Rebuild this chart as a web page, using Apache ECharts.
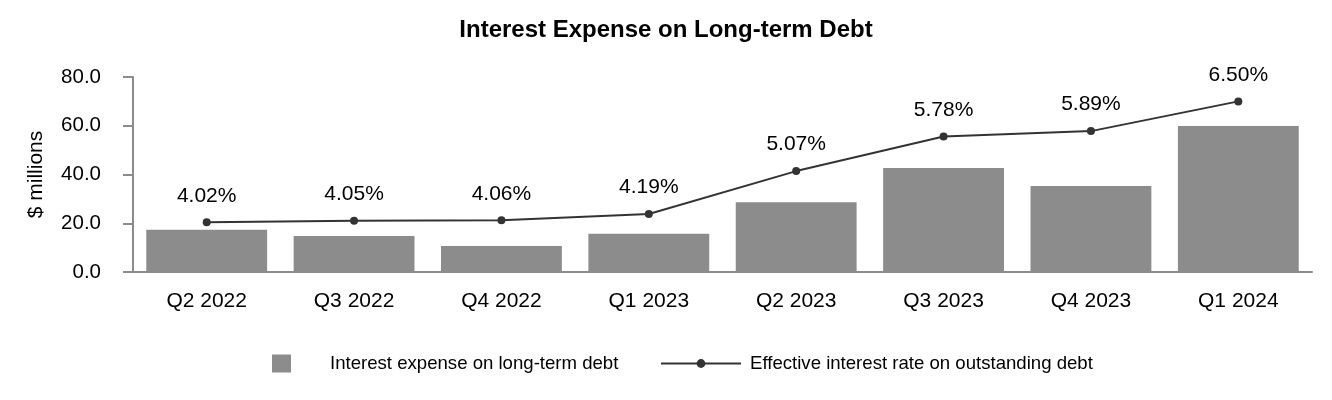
<!DOCTYPE html>
<html>
<head>
<meta charset="utf-8">
<script src="https://cdn.jsdelivr.net/npm/echarts@6/dist/echarts.min.js"></script>
<style>
html,body{margin:0;padding:0;background:#fff;}
#chart{width:1332px;height:400px;}
</style>
</head>
<body>
<div id="chart"></div>
<script>
const categories = ['Q2 2022','Q3 2022','Q4 2022','Q1 2023','Q2 2023','Q3 2023','Q4 2023','Q1 2024'];
const interestExpense = [17.3, 14.8, 10.7, 15.7, 28.6, 42.7, 35.3, 59.9];
const effectiveRate = [4.02, 4.05, 4.06, 4.19, 5.07, 5.78, 5.89, 6.50];
const yTicks = [0, 20, 40, 60, 80];

const FONT = '"Liberation Sans", Arial, sans-serif';
const chart = echarts.init(document.getElementById('chart'));
chart.setOption({
  animation: false,
  backgroundColor: '#fff',
  textStyle: { fontFamily: FONT },
  title: {
    text: 'Interest Expense on Long-term Debt',
    left: 'center',
    top: 13,
    textStyle: { fontFamily: FONT, fontSize: 24, fontWeight: 'bold', color: '#000' }
  },
  legend: [
    {
      data: [{ name: 'Interest expense on long-term debt', icon: 'rect' }],
      left: 267, top: 349,
      itemWidth: 19, itemHeight: 18,
      textStyle: { fontFamily: FONT, fontSize: 18.6, color: '#000', padding: [0, 0, 0, 34] }
    },
    {
      data: ['Effective interest rate on outstanding debt'],
      left: 655, top: 349,
      itemWidth: 80, itemHeight: 11,
      textStyle: { fontFamily: FONT, fontSize: 18.6, color: '#000', padding: [0, 0, 0, 4] }
    }
  ],
  grid: { left: 133, right: 20, top: 77, bottom: 128, containLabel: false },
  xAxis: {
    type: 'category',
    data: categories,
    axisLine: { lineStyle: { color: '#8c8c8c', width: 2 } },
    axisTick: { alignWithLabel: true, length: 10, lineStyle: { color: '#8c8c8c', width: 2 } },
    axisLabel: { fontFamily: FONT, fontSize: 21, color: '#000', margin: 19 }
  },
  yAxis: [
    {
      type: 'value',
      min: yTicks[0], max: yTicks[yTicks.length - 1], interval: 20,
      name: '$ millions',
      nameLocation: 'middle',
      nameGap: 86,
      nameTextStyle: { fontFamily: FONT, fontSize: 21, color: '#000' },
      axisLine: { show: true, lineStyle: { color: '#8c8c8c', width: 2 } },
      axisTick: { show: true, length: 10, lineStyle: { color: '#8c8c8c', width: 2 } },
      splitLine: { show: false },
      axisLabel: { fontFamily: FONT, fontSize: 20.5, color: '#000', margin: 32, formatter: v => v.toFixed(1) }
    },
    {
      type: 'value', min: 3, max: 7, show: false, splitLine: { show: false }
    }
  ],
  series: [
    {
      name: 'Interest expense on long-term debt',
      type: 'bar',
      data: interestExpense,
      barCategoryGap: '18%',
      itemStyle: { color: '#8c8c8c' }
    },
    {
      name: 'Effective interest rate on outstanding debt',
      type: 'line',
      yAxisIndex: 1,
      data: effectiveRate,
      symbol: 'circle',
      symbolSize: 8,
      lineStyle: { color: '#333', width: 2 },
      itemStyle: { color: '#333' },
      label: {
        show: true, position: 'top', distance: 12,
        fontFamily: FONT, fontSize: 21, color: '#000',
        formatter: p => p.value.toFixed(2) + '%'
      }
    }
  ]
});
</script>
</body>
</html>
